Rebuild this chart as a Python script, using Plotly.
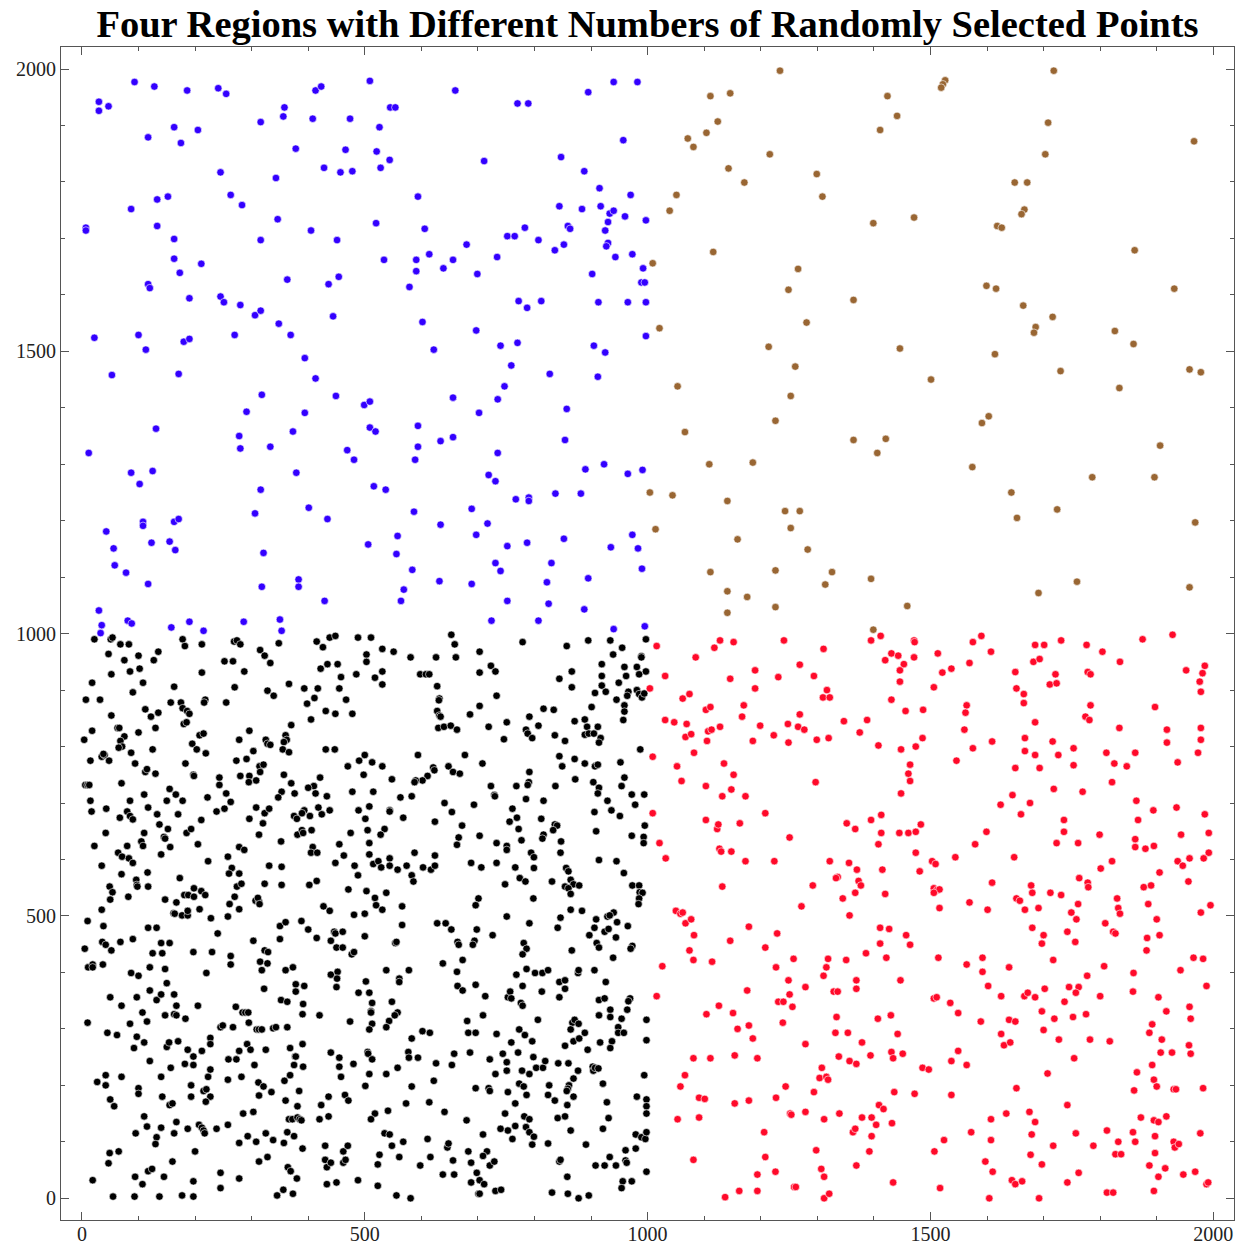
import plotly.graph_objects as go

title_text = "Four Regions with Different Numbers of Randomly Selected Points"
tick_values = [0, 500, 1000, 1500, 2000]
tick_labels = ["0", "500", "1000", "1500", "2000"]

brown_pts = [(1234,1997),(1718,1997),(1526,1980),(1522,1973),(1519,1967),(1111,1952),(1146,1957),(1424,1952),(1441,1917),(1124,1907),(1708,1905),(1411,1892),(1104,1887),(1071,1877),(1081,1862),(1966,1872),(1216,1849),(1703,1849),(1143,1824),(1299,1814),(1171,1799),(1649,1799),(1671,1799),(1051,1777),(1309,1774),(1039,1749),(1666,1751),(1661,1743),(1471,1737),(1399,1727),(1618,1722),(1626,1719),(1116,1676),(1861,1679),(1009,1656),(1266,1646),(1249,1609),(1599,1616),(1616,1611),(1931,1611),(1364,1591),(1664,1581),(1716,1561),(1281,1551),(1021,1541),(1686,1543),(1683,1533),(1826,1536),(1859,1513),(1214,1508),(1446,1505),(1614,1495),(1261,1473),(1730,1465),(1958,1468),(1978,1463),(1501,1450),(1053,1438),(1253,1421),(1834,1435),(1603,1385),(1591,1373),(1226,1377),(1066,1357),(1364,1343),(1421,1345),(1406,1320),(1906,1333),(1109,1300),(1186,1303),(1574,1295),(1786,1277),(1896,1277),(1004,1250),(1044,1245),(1141,1235),(1643,1250),(1243,1217),(1269,1217),(1724,1220),(1014,1185),(1253,1187),(1653,1205),(1968,1197),(1159,1167),(1283,1149),(1111,1109),(1226,1112),(1326,1109),(1395,1097),(1314,1087),(1759,1092),(1958,1082),(1141,1075),(1176,1065),(1691,1072),(1226,1047),(1141,1037),(1459,1049),(1399,1007)]

blue_pts = [(93,1977),(128,1969),(186,1962),(241,1966),(255,1956),(30,1942),(30,1926),(47,1934),(413,1962),(423,1969),(509,1979),(660,1962),(770,1939),(789,1939),(895,1959),(940,1977),(982,1977),(358,1932),(356,1916),(316,1906),(408,1912),(474,1912),(545,1932),(554,1932),(526,1897),(163,1897),(205,1892),(117,1879),(175,1869),(378,1859),(466,1857),(521,1854),(544,1839),(711,1837),(847,1844),(957,1874),(428,1825),(457,1817),(478,1819),(528,1825),(245,1817),(343,1807),(888,1819),(915,1789),(263,1777),(283,1759),(133,1769),(152,1774),(87,1752),(594,1774),(970,1777),(844,1757),(884,1752),(917,1757),(933,1744),(940,1749),(960,1739),(930,1729),(997,1732),(346,1734),(520,1727),(7,1719),(7,1714),(133,1722),(405,1714),(606,1717),(783,1719),(859,1722),(863,1717),(752,1704),(765,1704),(925,1714),(163,1699),(316,1697),(451,1697),(807,1697),(680,1689),(852,1689),(836,1679),(930,1692),(927,1686),(734,1667),(943,1667),(973,1672),(163,1664),(211,1655),(534,1662),(591,1662),(614,1672),(656,1662),(173,1639),(591,1642),(639,1647),(699,1637),(902,1637),(992,1647),(117,1619),(120,1612),(363,1627),(436,1619),(454,1632),(579,1614),(989,1622),(995,1622),(190,1594),(245,1597),(251,1587),(280,1582),(306,1564),(316,1572),(444,1562),(348,1549),(602,1552),(772,1589),(787,1577),(812,1589),(913,1587),(965,1587),(997,1587),(697,1537),(22,1524),(100,1529),(180,1517),(190,1522),(270,1529),(369,1529),(997,1527),
(113,1503),(53,1458),(171,1460),(394,1488),(413,1452),(622,1503),(740,1510),(770,1515),(905,1510),(925,1498),(759,1475),(827,1460),(912,1455),(747,1438),(735,1415),(656,1418),(318,1423),(449,1421),(499,1405),(509,1411),(291,1393),(394,1391),(702,1391),(857,1398),(131,1363),(278,1350),(280,1328),(333,1331),(373,1358),(509,1365),(519,1358),(594,1368),(594,1331),(589,1308),(634,1341),(656,1348),(469,1325),(481,1308),(854,1343),(735,1320),(12,1320),(87,1285),(125,1288),(102,1265),(379,1285),(316,1255),(516,1261),(537,1255),(719,1281),(731,1270),(890,1291),(923,1300),(965,1283),(991,1290),(767,1238),(790,1241),(790,1235),(837,1248),(882,1248),(306,1213),(401,1223),(434,1203),(587,1216),(689,1221),(717,1195),(634,1193),(108,1198),(108,1191),(163,1198),(171,1203),(43,1181),(56,1151),(58,1121),(78,1108),(123,1161),(155,1163),(165,1148),(117,1088),(321,1143),(506,1158),(558,1173),(556,1141),(697,1175),(752,1155),(787,1161),(852,1168),(973,1175),(935,1153),(983,1151),(731,1125),(740,1111),(830,1125),(990,1115),(584,1113),(318,1083),(383,1096),(383,1083),(632,1093),(689,1088),(822,1091),(895,1098),(569,1078),(564,1058),(429,1058),(752,1058),(825,1053),(888,1043),(30,1041),(35,1015),(33,1001),(81,1023),(88,1018),(158,1011),(190,1021),(215,1005),(286,1021),(350,1025),(353,1005),(724,1023),(807,1023),(940,1008),(995,1013)]

black_pts = [(22,990),(51,990),(54,993),(68,981),(83,981),(178,990),(182,978),(212,981),(269,986),(274,988),(280,981),(348,983),(415,986),(426,976),(438,993),(448,996),(488,993),(47,964),(75,953),(100,961),(135,968),(127,953),(252,951),(267,951),(315,971),(323,961),(333,948),(434,946),(452,946),(422,938),(458,923),(485,928),(52,928),(85,933),(102,938),(212,931),(287,933),(18,913),(108,913),(90,896),(163,906),(270,905),(366,911),(328,899),(339,890),(393,903),(417,903),(455,903),(411,886),(398,876),(467,883),(7,883),(32,883),(157,878),(175,878),(178,868),(186,863),(190,858),(218,883),(216,878),(255,878),(112,866),(122,853),(135,860),(52,855),(431,863),(448,858),(478,858),(405,848),(370,838),(180,840),(185,843),(63,833),(66,833),(18,828),(100,825),(130,833),(208,820),(215,823),(296,828),(4,812),(75,818),(68,810),(71,800),(65,798),(195,805),(203,795),(125,795),(87,789),(219,788),(278,812),(325,812),(328,805),(333,803),(360,820),(362,812),(357,808),(355,795),(366,790),(303,792),(431,795),(447,795),(35,782),(40,785),(38,787),(48,775),(15,775),(94,770),(183,770),(273,775),(291,778),(314,765),(321,768),(315,755),(470,765),(490,775),(112,755),(115,760),(130,752),(197,750),(198,748),(243,745),(243,732),(280,748),(296,748),(295,737),(308,740),(357,750),(370,735),(421,745),(410,730),(413,717),(400,727),(6,732),(10,732),(13,732),(70,735),(155,725),(166,715),(255,717),(263,702),(222,710),(150,704),(178,704),(110,715),(15,704),(85,704),(353,720),(347,710),(376,717),(433,712),(478,720),(17,685),(43,690),(67,674),(80,685),(85,677),(90,671),(117,692),(133,680),(170,680),(238,685),(252,690),(308,692),(323,682),(331,690),(296,672),(211,670),(375,677),(380,672),(393,687),(389,682),(403,677),(418,692),(424,680),(438,687),(489,687),(137,662),(152,654),(185,647),(193,654),(320,664),(42,647),(110,647),(145,640),(147,637),(105,632),(108,624),(156,622),(313,644),(381,644),(389,652),(391,647),(406,652),(475,647),(22,624),(80,624),(64,612),(71,605),(83,602),(90,594),(140,609),(205,627),(278,622),(287,617),(352,632),(408,622),(405,612),(416,612),(455,627),(463,607),(35,589),(70,574),(116,577),(173,567),(223,597),(258,605),(265,585),(260,575),(278,575),(331,589),(353,587),(448,594),(482,589),(488,572),(96,564),(97,555),(98,552),(117,552),(49,552),(54,542),(50,529),(82,534),(35,511),(181,537),(188,537),(198,549),(198,534),(211,544),(218,537),(147,529),(167,524),(162,505),(164,504),(177,501),(187,501),(187,509),(208,512),(228,496),(258,499),(261,521),(270,534),(274,552),(282,557),(278,512),(307,527),(313,525),(311,532),(314,521),(323,557),(353,555),(402,555),(415,562),(427,517),(438,509),(471,547),(481,502),(10,491),(38,482),(117,479),(132,479),(350,482),(360,489),(388,491),
(511,993),(653,998),(659,981),(661,958),(531,973),(551,968),(503,963),(503,950),(581,958),(626,958),(703,968),(779,985),(857,978),(895,988),(934,988),(997,990),(955,975),(939,963),(989,960),(989,958),(531,933),(518,922),(531,910),(598,928),(608,928),(614,928),(703,931),(723,943),(731,933),(628,907),(733,890),(632,885),(631,882),(844,920),(866,933),(866,905),(919,946),(919,925),(919,908),(926,897),(907,895),(959,941),(962,925),(949,913),(981,941),(985,928),(997,933),(966,897),(964,890),(981,900),(985,893),(990,887),(994,894),(945,883),(901,870),(959,873),(959,862),(957,847),(628,863),(632,855),(634,853),(686,857),(703,872),(816,867),(834,865),(791,853),(751,843),(807,837),(719,835),(630,833),(640,835),(652,837),(663,830),(785,830),(788,823),(796,815),(746,813),(836,820),(854,810),(871,845),(889,848),(893,835),(912,835),(889,821),(896,823),(905,823),(917,815),(914,807),(987,795),(500,785),(513,772),(531,765),(498,750),(594,785),(677,785),(708,770),(648,765),(656,755),(668,752),(621,763),(623,758),(611,748),(602,740),(590,740),(588,737),(548,742),(791,755),(790,737),(788,732),(768,730),(723,730),(729,714),(730,712),(785,707),(816,704),(837,730),(844,783),(849,765),(871,778),(889,770),(907,765),(912,768),(952,772),(872,742),(904,737),(914,727),(912,717),(959,745),(954,730),(972,715),(994,715),(929,704),(978,697),(515,720),(563,710),(583,712),(508,694),(544,687),(544,685),(501,672),(568,674),(641,700),(654,684),(693,697),(624,667),(761,690),(769,674),(756,667),(772,654),(812,672),(836,662),(840,660),(833,652),(816,644),(814,637),(906,684),(951,677),(936,687),(909,650),(995,660),(993,640),(993,629),(972,642),(505,652),(535,654),(528,644),(508,629),(672,660),(666,639),(663,626),(703,642),(733,629),(751,624),(751,617),(777,634),(847,632),(846,612),(508,609),(515,592),(524,597),(529,586),(544,602),(544,589),(558,582),(574,589),(588,612),(603,586),(617,582),(624,589),(624,607),(583,572),(586,561),(688,594),(706,586),(733,594),(766,586),(794,612),(799,604),(799,585),(774,567),(784,561),(748,556),(831,561),(856,585),(860,579),(864,564),(869,556),(879,554),(854,552),(860,549),(864,539),(914,599),(945,597),(958,576),(973,554),(985,554),(986,542),(991,541),(985,531),(984,521),(503,544),(518,532),(520,519),(531,511),(538,541),(500,504),(566,517),(701,531),(696,519),(798,531),(864,511),(884,509),(751,499),(846,497),(909,494),(929,499),(940,506),(933,501),(566,484),(628,487),(643,487),(791,487),(946,489),(965,482),
(400,476),(446,472),(448,469),(461,472),(5,442),(36,454),(42,449),(52,439),(68,454),(90,459),(140,452),(155,452),(125,434),(142,434),(197,436),(230,436),(240,469),(263,429),(263,414),(303,456),(323,439),(329,436),(315,419),(328,416),(318,404),(350,459),(415,461),(440,456),(450,444),(461,444),(477,432),(481,436),(11,409),(19,414),(19,409),(37,414),(87,399),(100,394),(120,409),(147,406),(150,381),(220,399),(360,404),(373,409),(378,379),(393,376),(378,366),(322,371),(440,396),(452,401),(451,389),(450,374),(489,364),(50,356),(70,341),(97,356),(120,368),(132,351),(140,361),(163,361),(167,341),(107,329),(115,313),(147,324),(163,326),(167,324),(183,318),(205,341),(272,339),(284,329),(289,329),(294,329),(295,311),(352,351),(363,348),(391,344),(390,326),(420,324),(474,313),(10,311),(85,309),(45,293),(62,289),(97,286),(110,276),(92,266),(120,243),(150,268),(154,276),(170,278),(157,231),(187,263),(197,251),(212,261),(182,238),(197,236),(227,284),(227,273),(245,303),(249,306),(267,303),(309,299),(313,299),(318,299),(338,301),(343,303),(363,303),(292,273),(298,263),(278,261),(259,246),(273,246),(305,236),(325,263),(368,266),(377,251),(378,251),(390,273),(375,236),(391,233),(440,258),(455,249),(455,233),(480,238),(458,215),(27,206),(42,218),(42,200),(70,215),(50,175),(57,163),(100,195),(100,185),(140,215),(142,180),(155,165),(160,168),(193,200),(193,180),(215,190),(220,193),(227,180),(219,171),(223,215),(227,228),(258,210),(282,215),(312,205),(321,198),(313,182),(335,188),(358,208),(368,218),(384,190),(360,173),(381,163),(423,165),(436,180),(465,183),(471,173),(110,145),(115,127),(140,125),(167,135),(163,115),(95,115),(132,108),(130,96),(187,123),(207,130),(212,125),(215,120),(217,115),(238,123),(258,130),(285,150),(303,153),(293,110),(278,98),(308,100),(325,115),(338,103),(357,98),(363,117),(375,110),(366,140),(372,140),(381,143),(385,140),(388,138),(390,88),(420,140),(436,145),(430,93),(462,83),(470,93),(430,68),(433,55),(440,63),(462,63),(466,68),(488,32),(49,80),(65,83),(47,62),(19,32),(94,38),(107,25),(117,48),(124,52),(145,38),(160,65),(200,83),(197,30),(245,45),(245,18),(278,35),(313,65),(328,73),(364,55),(369,48),(380,35),(356,15),(345,5),(373,8),(433,25),(450,28),(55,3),(93,3),(137,3),(177,5),(197,3),
(500,464),(554,452),(556,454),(653,476),(664,454),(666,449),(694,456),(691,449),(698,476),(726,466),(781,452),(786,442),(779,432),(841,479),(866,439),(897,466),(906,479),(924,472),(931,477),(910,452),(914,444),(944,462),(973,447),(970,442),(939,426),(638,416),(673,422),(663,401),(538,404),(578,404),(561,389),(561,383),(502,384),(508,364),(513,346),(511,331),(511,329),(548,348),(558,329),(553,324),(543,314),(538,303),(513,309),(508,299),(664,376),(673,368),(696,378),(713,358),(768,396),(786,406),(801,399),(814,399),(824,404),(779,376),(753,356),(757,366),(759,354),(776,346),(779,341),(813,366),(844,383),(854,386),(854,371),(844,356),(877,399),(878,404),(906,404),(926,383),(914,351),(924,354),(969,354),(966,349),(914,324),(934,334),(934,321),(954,318),(964,334),(948,303),(948,293),(958,293),(998,316),(998,280),(709,324),(681,314),(683,293),(696,293),(733,291),(806,316),(773,299),(783,289),(796,278),(759,276),(867,311),(871,316),(878,309),(864,299),(889,293),(869,278),(879,283),(854,270),(916,276),(937,278),(934,266),(894,263),(602,296),(615,293),(583,283),(577,259),(578,249),(594,249),(505,259),(506,256),(513,246),(508,220),(538,220),(558,231),(501,199),(583,198),(626,239),(654,236),(658,256),(622,208),(686,258),(721,246),(744,256),(751,241),(751,226),(731,220),(771,258),(778,226),(791,220),(798,250),(803,231),(815,231),(819,243),(842,239),(860,239),(877,226),(869,212),(903,233),(904,226),(907,231),(913,230),(994,218),(921,203),(696,195),(719,195),(721,190),(753,188),(773,203),(781,198),(786,183),(766,168),(826,200),(824,183),(836,173),(861,200),(859,194),(857,190),(869,180),(858,165),(928,170),(981,180),(998,175),(998,163),(998,150),(573,168),(614,170),(541,155),(518,150),(511,140),(641,153),(680,138),(748,150),(782,145),(791,140),(766,128),(753,120),(740,123),(761,105),(785,126),(791,117),(799,109),(796,95),(824,97),(841,142),(854,145),(864,120),(931,142),(921,123),(891,95),(979,113),(989,108),(996,105),(998,117),(979,88),(961,85),(933,73),(908,58),(924,58),(944,58),(961,67),(963,63),(998,47),(956,30),(972,30),(954,18),(535,115),(544,113),(548,93),(568,100),(526,77),(523,60),(561,73),(598,58),(611,105),(616,73),(646,90),(648,97),(656,67),(638,42),(658,42),(683,83),(688,63),(709,113),(716,83),(709,75),(721,58),(729,65),(698,45),(688,28),(703,32),(711,25),(701,8),(703,8),(731,13),(741,15),(523,22),(556,5),(581,0),(831,10),(844,65),(846,68),(858,38),(859,8),(878,0),(896,5)]

red_pts = [(1016,978),(1031,925),(1004,903),(1085,958),(1118,975),(1128,988),(1152,985),(1241,988),(1311,973),(1395,988),(1412,996),(1471,988),(1472,985),(1431,965),(1443,961),(1420,953),(1453,946),(1471,958),(1446,935),(1446,915),(1513,965),(1575,985),(1590,996),(1607,968),(1569,948),(1537,938),(1521,931),(1506,905),(1685,980),(1701,980),(1731,988),(1776,980),(1804,968),(1875,990),(1928,998),(1835,950),(1682,950),(1693,955),(1650,932),(1721,928),(1711,910),(1723,912),(1778,932),(1783,928),(1952,935),(1985,943),(1981,930),(1976,915),(1978,897),(1652,903),(1665,893),(1665,877),(1146,920),(1190,935),(1190,903),(1231,923),(1269,945),(1294,925),(1317,900),(1310,887),(1322,887),(1431,883),(1062,885),(1074,893),(1103,865),(1111,870),(1170,873),(1167,853),(1031,847),(1047,843),(1069,840),(1067,817),(1077,822),(1105,810),(1107,827),(1113,830),(1128,835),(1199,837),(1186,810),(1223,820),(1248,840),(1249,807),(1269,857),(1266,835),(1277,830),(1299,812),(1320,815),(1347,845),(1388,847),(1375,825),(1408,802),(1456,863),(1487,865),(1486,815),(1474,800),(1448,795),(1564,873),(1562,860),(1560,830),(1575,797),(1609,809),(1685,843),(1667,815),(1667,792),(1685,785),(1650,762),(1693,762),(1716,809),(1726,785),(1753,797),(1753,767),(1783,873),(1774,853),(1781,847),(1834,833),(1897,870),(1918,830),(1918,807),(1978,833),(1978,812),(1973,789),(1937,772),(1811,789),(1825,770),(1847,765),(1862,789),(1821,737),(1009,782),(1082,789),(1052,765),(1060,739),(1135,770),(1152,750),(1103,730),(1132,712),(1148,724),(1173,712),(1297,737),(1546,775),(1464,768),(1461,752),(1464,739),(1448,717),(1718,725),(1769,720),(1645,714),(1624,697),(1676,700),(1660,680),(1864,704),(1894,687),(1935,692),(1985,680),(1867,670),(1736,670),(1736,649),(1799,644),(1723,629),(1761,629),(1862,636),(1862,622),(1880,619),(1895,624),(1943,644),(1992,647),(1992,612),(1983,602),(1937,597),(1946,589),(1958,602),(1905,577),(1821,597),(1801,584),(1956,561),(1877,551),(1890,554),(1763,567),(1778,559),(1779,551),(1678,554),(1680,541),(1712,541),(1731,537),(1652,531),(1658,527),(1667,511),(1691,514),(1761,521),(1749,506),(1758,494),(1830,531),(1832,514),(1835,504),(1809,487),(1885,521),(1900,494),(1978,506),(1995,519),(1648,604),(1609,559),(1601,511),(1569,524),(1579,627),(1599,649),(1544,604),(1503,597),(1509,592),(1481,579),(1474,612),(1506,549),(1512,546),(1516,547),(1506,541),(1516,514),(1408,627),(1413,647),(1413,679),(1395,670),(1352,664),(1367,654),(1445,647),(1461,647),(1474,649),(1483,662),(1415,582),(1420,539),(1356,594),(1370,582),(1336,569),(1333,567),(1373,562),(1377,554),(1367,541),(1345,531),(1357,501),(1322,597),(1292,554),(1272,517),(1251,639),(1224,597),(1208,682),(1173,597),(1163,664),(1148,614),(1127,619),(1130,614),(1123,654),(1125,662),(1103,670),(1132,552),(1009,682),(1021,629),(1032,602),(1050,509),(1058,504),(1062,506),(1067,487),(1077,494),
(1179,481),(1411,479),(1427,477),(1680,479),(1823,472),(1827,469),(1742,472),(1905,466),(1883,461),(1082,466),(1146,456),(1229,469),(1208,444),(1074,439),(1081,422),(1114,419),(1026,411),(1227,409),(1258,424),(1319,424),(1316,409),(1311,394),(1351,422),(1386,434),(1411,451),(1422,426),(1457,466),(1464,449),(1447,386),(1369,386),(1369,371),(1249,386),(1279,374),(1251,361),(1176,368),(1231,348),(1240,348),(1256,339),(1239,311),(1329,366),(1336,366),(1334,321),(1016,358),(1126,341),(1104,326),(1151,328),(1159,300),(1179,306),(1186,283),(1081,248),(1111,248),(1154,253),(1194,248),(1279,273),(1332,293),(1354,293),(1338,251),(1357,243),(1369,238),(1379,276),(1394,253),(1407,318),(1430,324),(1442,291),(1431,259),(1434,248),(1451,256),(1486,231),(1497,228),(1514,426),(1506,354),(1511,356),(1535,346),(1549,328),(1564,414),(1592,426),(1592,401),(1602,376),(1625,358),(1639,409),(1589,313),(1639,316),(1650,313),(1625,291),(1630,271),(1641,276),(1549,261),(1537,243),(1564,236),(1700,466),(1697,451),(1756,454),(1717,422),(1702,371),(1666,358),(1672,364),(1685,356),(1745,374),(1762,374),(1757,364),(1737,348),(1777,394),(1807,411),(1800,358),(1697,331),(1719,318),(1752,321),(1775,326),(1700,298),(1727,281),(1782,281),(1817,278),(1754,248),(1707,221),(1652,195),(1859,399),(1858,366),(1903,356),(1917,331),(1892,308),(1887,293),(1909,281),(1907,258),(1927,258),(1942,404),(1965,426),(1982,424),(1988,376),(1958,339),(1960,318),(1957,271),(1960,256),(1882,439),(1892,236),(1865,223),(1895,210),(1900,198),(1860,191),(1930,193),(1934,193),(1982,195),(1977,115),(1930,100),(1932,90),(1939,96),(1917,145),(1895,138),(1903,135),(1872,143),(1858,117),(1862,100),(1897,110),(1897,80),(1887,58),(1915,53),(1903,38),(1947,42),(1968,47),(1988,25),(1991,28),(1895,13),(1812,10),(1823,10),(1832,100),(1827,78),(1837,78),(1812,120),(1788,93),(1757,115),(1762,45),(1742,165),(1742,28),(1717,93),(1675,153),(1685,135),(1679,113),(1677,77),(1697,60),(1692,0),(1634,150),(1607,140),(1607,103),(1572,117),(1597,65),(1610,47),(1644,32),(1650,25),(1662,30),(1604,0),(1524,103),(1507,83),(1517,18),(1537,183),(1472,185),(1436,188),(1409,165),(1417,158),(1404,130),(1379,143),(1396,143),(1432,133),(1363,117),(1367,123),(1396,110),(1392,83),(1369,58),(1434,28),(1339,150),(1312,140),(1294,188),(1304,213),(1308,231),(1316,215),(1319,210),(1298,85),(1307,52),(1312,38),(1312,0),(1321,8),(1279,153),(1252,150),(1254,148),(1244,198),(1227,178),(1206,117),(1208,73),(1226,47),(1194,42),(1194,13),(1162,13),(1137,2),(1259,20),(1262,20),(1179,173),(1154,168),(1091,178),(1101,176),(1058,198),(1066,218),(1053,140),(1091,143),(1081,68)]

series = [
    ("black", black_pts, "#000000"),
    ("red", red_pts, "#ff0a2a"),
    ("blue", blue_pts, "#3300ff"),
    ("brown", brown_pts, "#996633"),
]

fig = go.Figure()
for name, pts, color in series:
    fig.add_trace(go.Scatter(
        x=[p[0] for p in pts], y=[p[1] for p in pts],
        mode="markers", name=name, showlegend=False,
        marker=dict(size=7.5, color=color, line=dict(color="white", width=0.6)),
    ))

axis_common = dict(
    tickvals=tick_values, ticktext=tick_labels,
    ticks="inside", ticklen=8, tickwidth=1, tickcolor="#555555",
    minor=dict(dtick=100, tick0=0, ticks="inside", ticklen=4, tickwidth=1, tickcolor="#555555"),
    showline=True, linecolor="#555555", linewidth=1, mirror="ticks",
    showgrid=False, zeroline=False, automargin=False,
    tickfont=dict(family="Liberation Serif", size=20, color="#222222"),
)

fig.update_layout(
    template="none",
    width=1240, height=1247,
    margin=dict(l=61, r=6, t=47, b=27, pad=0, autoexpand=False),
    paper_bgcolor="white", plot_bgcolor="white",
    title=dict(text="<b>" + title_text + "</b>", x=0.5, xanchor="center", xref="paper",
               y=1 - 24 / 1247, yanchor="middle", yref="container",
               font=dict(family="Liberation Serif", size=38.5, color="black")),
    xaxis=dict(axis_common, range=[-37, 2036.6], ticklabelstandoff=-4),
    yaxis=dict(axis_common, range=[-38.5, 2039]),
)

fig.write_html("out.html")
